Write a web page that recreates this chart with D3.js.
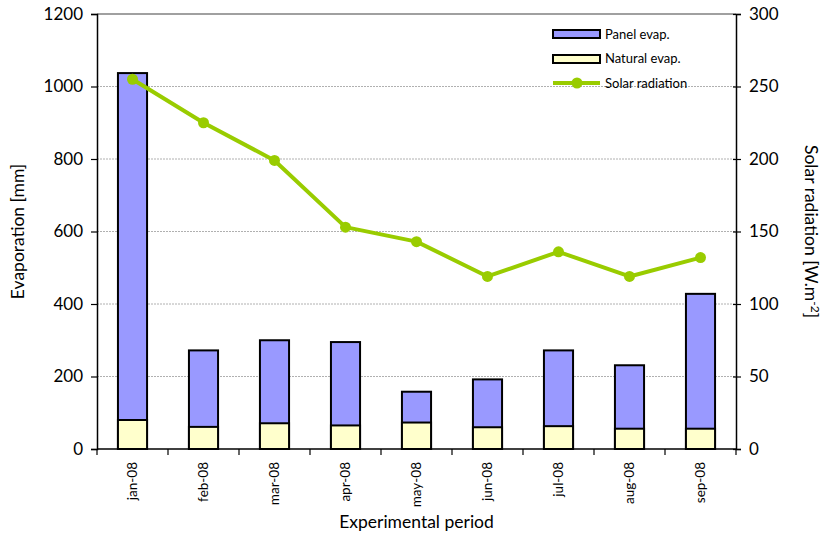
<!DOCTYPE html>
<html>
<head>
<meta charset="utf-8">
<script src="https://cdn.jsdelivr.net/npm/d3@7"></script>
<style>
  html, body { margin: 0; padding: 0; background: #fff; }
  svg text { font-family: Lato, "Open Sans", sans-serif; fill: #000; }
</style>
</head>
<body>
<svg id="chart" width="825" height="537"></svg>
<script>
// Monthly evaporation (mm) and mean solar radiation (W/m²), 2008
const months = ["jan-08", "feb-08", "mar-08", "apr-08", "may-08", "jun-08", "jul-08", "aug-08", "sep-08"];
const panelEvap = [1037, 272, 300, 295, 158, 192, 272, 231, 428];
const naturalEvap = [80, 61, 71, 65, 73, 60, 63, 56, 56];
const solarRadiation = [255, 225, 199, 153, 143, 119, 136, 119, 132];
const evapTicks = [0, 200, 400, 600, 800, 1000, 1200];
const solarTicks = [0, 50, 100, 150, 200, 250, 300];

const svg = d3.select("#chart");
const margin = { left: 97, right: 825 - 736, top: 14, bottom: 537 - 449 };
const W = 825, H = 537;
const x0 = margin.left, x1 = W - margin.right, y0 = H - margin.bottom, y1 = margin.top;

const x = d3.scaleBand().domain(months).range([x0, x1]).paddingInner(0.59).paddingOuter(0.295);
const yL = d3.scaleLinear().domain([0, 1200]).range([y0, y1]);
const yR = d3.scaleLinear().domain([0, 300]).range([y0, y1]);

// gridlines
svg.append("g").selectAll("line")
  .data(evapTicks.filter(t => t > 0 && t < 1200))
  .join("line")
  .attr("x1", x0).attr("x2", x1)
  .attr("y1", d => yL(d)).attr("y2", d => yL(d))
  .attr("stroke", "#b0b0b0").attr("stroke-width", 1)
  .attr("stroke-dasharray", "2,1");
svg.append("line")
  .attr("x1", x0).attr("x2", x1).attr("y1", yL(1200)).attr("y2", yL(1200))
  .attr("stroke", "#808080").attr("stroke-width", 1.5);

// bars: panel evaporation behind, natural evaporation in front
const bars = svg.append("g");
bars.selectAll("rect.panel")
  .data(months)
  .join("rect").attr("class", "panel")
  .attr("x", d => x(d)).attr("width", x.bandwidth())
  .attr("y", (d, i) => yL(panelEvap[i]))
  .attr("height", (d, i) => yL(0) - yL(panelEvap[i]))
  .attr("fill", "#9999ff").attr("stroke", "#000").attr("stroke-width", 2);
bars.selectAll("rect.natural")
  .data(months)
  .join("rect").attr("class", "natural")
  .attr("x", d => x(d)).attr("width", x.bandwidth())
  .attr("y", (d, i) => yL(naturalEvap[i]))
  .attr("height", (d, i) => yL(0) - yL(naturalEvap[i]))
  .attr("fill", "#ffffcc").attr("stroke", "#000").attr("stroke-width", 2);

// left axis
const axL = svg.append("g").attr("transform", `translate(${x0},0)`)
  .call(d3.axisLeft(yL).tickValues(evapTicks).tickFormat(d3.format("d")).tickSize(6).tickPadding(8));
axL.select(".domain").attr("stroke", "#000").attr("stroke-width", 1.5);
axL.selectAll(".tick line").attr("stroke", "#000").attr("stroke-width", 1.2);
axL.selectAll(".tick text").style("font-size", "17px");

// right axis
const axR = svg.append("g").attr("transform", `translate(${x1},0)`)
  .call(d3.axisRight(yR).tickValues(solarTicks).tickFormat(d3.format("d")).tickSize(5).tickPadding(8));
axR.select(".domain").attr("stroke", "#000").attr("stroke-width", 1.5);
axR.selectAll(".tick line").attr("stroke", "#000").attr("stroke-width", 1.2).attr("x1", -3);
axR.selectAll(".tick text").style("font-size", "17px");

// bottom axis with ticks on category boundaries
const axB = svg.append("g").attr("transform", `translate(0,${y0})`);
axB.append("line").attr("x1", x0).attr("x2", x1).attr("stroke", "#000").attr("stroke-width", 1.5);
const step = (x1 - x0) / months.length;
axB.selectAll("line.tk")
  .data(d3.range(months.length + 1))
  .join("line").attr("class", "tk")
  .attr("x1", i => x0 + i * step).attr("x2", i => x0 + i * step)
  .attr("y1", 0).attr("y2", 6)
  .attr("stroke", "#000").attr("stroke-width", 1.2);
axB.selectAll("text")
  .data(months)
  .join("text")
  .attr("transform", d => `translate(${x(d) + x.bandwidth() / 2 + 4.5},${13}) rotate(-90)`)
  .attr("text-anchor", "end")
  .style("font-size", "13.5px")
  .text(d => d);

// solar radiation line
const line = d3.line()
  .x((d, i) => x(months[i]) + x.bandwidth() / 2)
  .y(d => yR(d));
svg.append("path")
  .datum(solarRadiation)
  .attr("d", line)
  .attr("fill", "none").attr("stroke", "#99cc00").attr("stroke-width", 4)
  .attr("stroke-linejoin", "round");
svg.append("g").selectAll("circle")
  .data(solarRadiation)
  .join("circle")
  .attr("cx", (d, i) => x(months[i]) + x.bandwidth() / 2)
  .attr("cy", d => yR(d))
  .attr("r", 5.5)
  .attr("fill", "#99cc00");

// axis titles
svg.append("text")
  .attr("transform", `translate(24,${(y0 + y1) / 2}) rotate(-90)`)
  .attr("text-anchor", "middle").style("font-size", "17.5px")
  .text("Evaporation [mm]");
svg.append("text")
  .attr("transform", `translate(805,${(y0 + y1) / 2}) rotate(90)`)
  .attr("text-anchor", "middle").style("font-size", "17.5px")
  .text("Solar radiation [W.m")
  .append("tspan").attr("dy", -6).style("font-size", "12px").text("-2")
  .select(function () { return this.parentNode; })
  .append("tspan").attr("dy", 6).text("]");
svg.append("text")
  .attr("x", (x0 + x1) / 2).attr("y", 528)
  .attr("text-anchor", "middle").style("font-size", "17.5px")
  .text("Experimental period");

// legend
const lg = svg.append("g").attr("transform", "translate(553,0)");
lg.append("rect").attr("x", 0).attr("y", 30).attr("width", 47).attr("height", 8)
  .attr("fill", "#9999ff").attr("stroke", "#000").attr("stroke-width", 2);
lg.append("rect").attr("x", 0).attr("y", 55).attr("width", 47).attr("height", 8)
  .attr("fill", "#ffffcc").attr("stroke", "#000").attr("stroke-width", 2);
lg.append("line").attr("x1", 0).attr("x2", 47).attr("y1", 83).attr("y2", 83)
  .attr("stroke", "#99cc00").attr("stroke-width", 4);
lg.append("circle").attr("cx", 24).attr("cy", 83).attr("r", 5.5).attr("fill", "#99cc00");
const legendLabels = ["Panel evap.", "Natural evap.", "Solar radiation"];
lg.selectAll("text.lbl")
  .data(legendLabels)
  .join("text").attr("class", "lbl")
  .attr("x", 52).attr("y", (d, i) => 38.5 + i * 24.5)
  .style("font-size", "13px")
  .text(d => d);
</script>
</body>
</html>
